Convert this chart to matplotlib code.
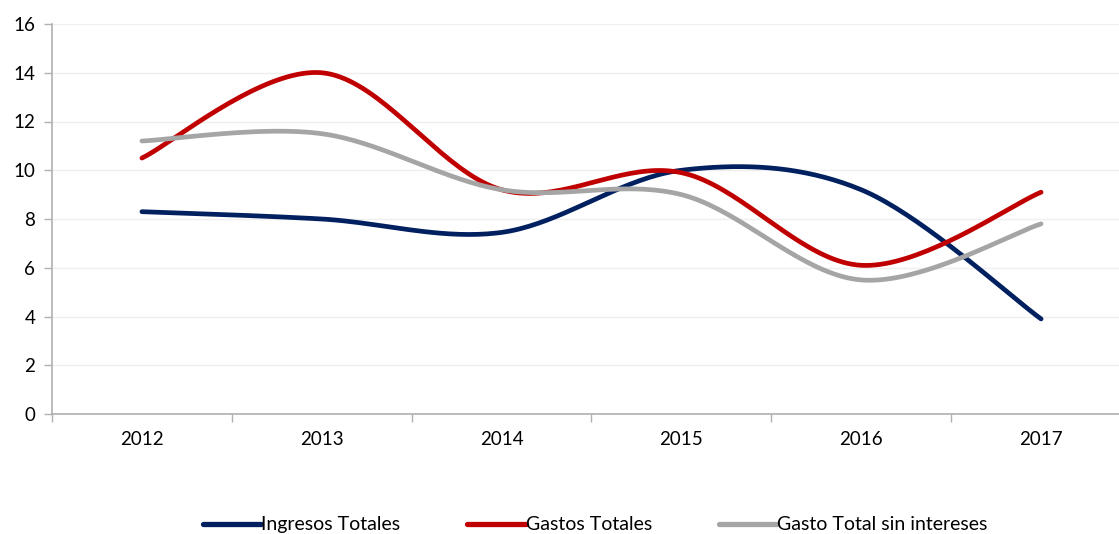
import numpy as np
import matplotlib
matplotlib.use("Agg")
import matplotlib.pyplot as plt

years = ["2012", "2013", "2014", "2015", "2016", "2017"]
ingresos = [8.3, 8.0, 7.45, 10.0, 9.2, 3.9]
gastos = [10.5, 14.0, 9.2, 9.9, 6.1, 9.1]
gasto_sin = [11.2, 11.5, 9.2, 9.0, 5.5, 7.8]
labels = ["Ingresos Totales", "Gastos Totales", "Gasto Total sin intereses"]
colors = ["#002060", "#C00000", "#A5A5A5"]

plt.rcParams['font.family'] = ['Lato', 'DejaVu Sans']


def smooth(x, y, n=40):
    """Excel-like smoothed line: Catmull-Rom via cubic Bezier segments."""
    x = np.asarray(x, float)
    y = np.asarray(y, float)
    P = np.column_stack([x, y])
    out = []
    m = len(P)
    for i in range(m - 1):
        p0 = P[i - 1] if i > 0 else P[i]
        p1 = P[i]
        p2 = P[i + 1]
        p3 = P[i + 2] if i + 2 < m else P[i + 1]
        c1 = p1 + (p2 - p0) / 6.0
        c2 = p2 - (p3 - p1) / 6.0
        t = np.linspace(0, 1, n)[:, None]
        seg = ((1 - t) ** 3) * p1 + 3 * ((1 - t) ** 2) * t * c1 + 3 * (1 - t) * t ** 2 * c2 + t ** 3 * p2
        if i > 0:
            seg = seg[1:]
        out.append(seg)
    out = np.vstack(out)
    return out[:, 0], out[:, 1]


fig = plt.figure(figsize=(11.19, 5.34), dpi=100)
ax = fig.add_axes([52 / 1119, 120 / 534, 1079 / 1119, 390 / 534])

xs = np.arange(len(years))
handles = []
for vals, lab, col in zip([ingresos, gastos, gasto_sin], labels, colors):
    sx, sy = smooth(xs, vals)
    h, = ax.plot(sx, sy, color=col, lw=3.4, solid_capstyle='round', label=lab)
    handles.append(h)

ax.set_xlim(-0.5, 5.5)
ax.set_ylim(0, 16)
ax.set_yticks(np.arange(0, 17, 2))
ax.set_xticks(xs)
ax.set_xticklabels(years)
ax.set_xticks(np.arange(-0.5, 5.6, 1), minor=True)
ax.tick_params(axis='x', which='major', length=0, pad=12, labelsize=13.5)
ax.tick_params(axis='x', which='minor', length=6, color='#B0B0B0', width=1)
ax.tick_params(axis='y', length=6, color='#B0B0B0', width=1, labelsize=13.5, pad=6)
ax.grid(axis='y', color='#EFEFEF', lw=1)
ax.set_axisbelow(True)
for s in ['top', 'right']:
    ax.spines[s].set_visible(False)
for s in ['left', 'bottom']:
    ax.spines[s].set_color('#B0B0B0')
    ax.spines[s].set_linewidth(1.2)

leg = fig.legend(handles=handles, loc='center', bbox_to_anchor=(0.532, 0.017), ncol=3,
                 frameon=False, fontsize=14, handlelength=3.0, handletextpad=0.0,
                 columnspacing=3.45)
for l in leg.get_lines():
    l.set_linewidth(3.8)

fig.savefig("out.png", dpi=100)
